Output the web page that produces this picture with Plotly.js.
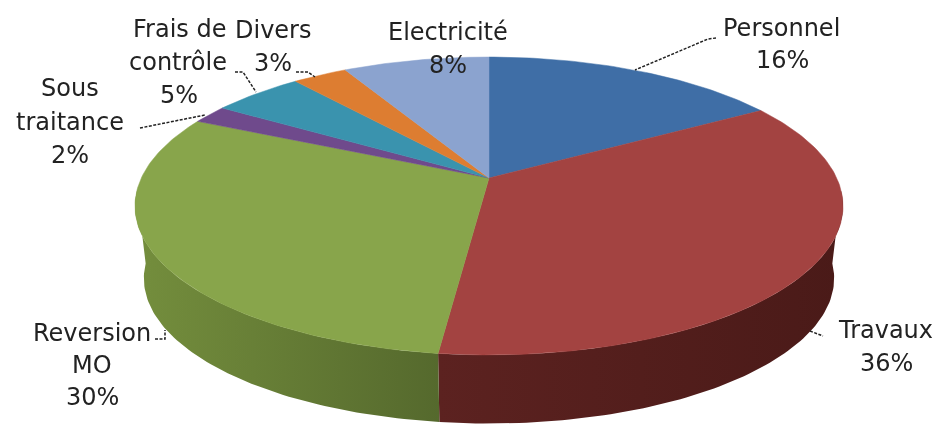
<!DOCTYPE html>
<html>
<head>
<meta charset="utf-8">
<script src="https://cdn.plot.ly/plotly-3.0.1.min.js"></script>
<style>
html,body{margin:0;padding:0;background:#fff;overflow:hidden}
#chart{width:936px;height:424px;filter:blur(0.7px)}
</style>
</head>
<body>
<div id="chart"></div>
<script>
// Data
const categories = ["Personnel", "Travaux", "Reversion MO", "Sous traitance", "Frais de contrôle", "Divers", "Electricité"];
const shares = [16.4, 35.5, 30.1, 2, 5, 3, 8];
const topColors = ["#3f6ea6", "#a34341", "#88a54b", "#6f4a8c", "#3a93ae", "#dd7d31", "#8ba3cf"];
const sideStops = {1: ["#5c2220", "#4a1a18"], 2: ["#748e3d", "#55692d"]};

// One entry per text line: [text, x, y]; a number stands for that category's share
const labelLines = [
  ["Personnel", 781, 28], [0, 782, 60],
  ["Travaux", 885, 330], [1, 886, 363],
  ["Reversion", 92, 333], ["MO", 92, 365], [2, 92, 397],
  ["Sous", 70, 88], ["traitance", 70, 122], [3, 70, 155],
  ["Frais de", 179, 29], ["contrôle", 178, 62], [4, 179, 95],
  ["Divers", 273, 30], [5, 273, 63],
  ["Electricité", 448, 32], [6, 448, 65]
];
const leaders = [
  [[716, 38], [708, 39], [635, 70]],
  [[810, 331], [823, 336]],
  [[155, 339], [165, 339], [165, 330]],
  [[140, 128], [205, 115]],
  [[235, 72], [243, 72], [256, 92]],
  [[296, 72], [308, 72], [315, 77]]
];

// Projection of the tilted disc
const cx = 489, cy = 178, a = 347.7, b = 143.7, p = 0.188, drop = 73, shrink = 0.975;
function rim(deg, scale, dy) {
  const t = deg * Math.PI / 180, w = 1 + p * Math.cos(t);
  return [cx + scale * a * Math.sin(t) / w, cy + dy - scale * b * Math.cos(t) / w];
}
function arc(from, to, scale, dy) {
  const pts = [], n = Math.max(2, Math.ceil(Math.abs(to - from)));
  for (let i = 0; i <= n; i++) pts.push(rim(from + (to - from) * i / n, scale, dy));
  return pts;
}

const total = shares.reduce((s, v) => s + v, 0);
const traces = [];
let acc = 0;
const spans = shares.map(v => { const s = [acc, acc + v * 360 / total]; acc = s[1]; return s; });

// Sides first (only the front of the disc is visible)
spans.forEach((s, i) => {
  const from = Math.max(s[0], 95), to = Math.min(s[1], 265);
  if (to <= from) return;
  const pts = arc(from, to, 1, 0).concat(arc(to, from, shrink, drop));
  const stops = sideStops[i];
  traces.push({
    type: "scatter", mode: "lines", x: pts.map(q => q[0]), y: pts.map(q => q[1]),
    fill: "toself", line: {width: 0}, hoverinfo: "skip", showlegend: false,
    fillcolor: stops[1],
    fillgradient: {type: "horizontal", colorscale: [[0, stops[0]], [1, stops[1]]]}
  });
});

// Top face
spans.forEach((s, i) => {
  const pts = [[cx, cy]].concat(arc(s[0], s[1], 1, 0), [[cx, cy]]);
  traces.push({
    type: "scatter", mode: "lines", name: categories[i],
    x: pts.map(q => q[0]), y: pts.map(q => q[1]),
    fill: "toself", fillcolor: topColors[i], line: {width: 0.5, color: topColors[i]},
    hoverinfo: "skip", showlegend: false
  });
});

// Leader lines
leaders.forEach(l => traces.push({
  type: "scatter", mode: "lines", x: l.map(q => q[0]), y: l.map(q => q[1]),
  line: {color: "#222", width: 1.5, dash: "3px,1.5px"}, hoverinfo: "skip", showlegend: false
}));

const annotations = labelLines.map(l => ({
  text: typeof l[0] === "number" ? Math.round(shares[l[0]]) + "%" : l[0],
  x: l[1], y: l[2], xref: "x", yref: "y", xanchor: "center", yanchor: "middle",
  showarrow: false, font: {family: "'DejaVu Sans', sans-serif", size: 24, color: "#222"}
}));

Plotly.newPlot("chart", traces, {
  width: 936, height: 424, margin: {l: 0, r: 0, t: 0, b: 0},
  paper_bgcolor: "#fff", plot_bgcolor: "#fff",
  xaxis: {range: [0, 936], visible: false, fixedrange: true},
  yaxis: {range: [424, 0], visible: false, fixedrange: true},
  annotations: annotations, showlegend: false
}, {displayModeBar: false, staticPlot: true});
</script>
</body>
</html>
